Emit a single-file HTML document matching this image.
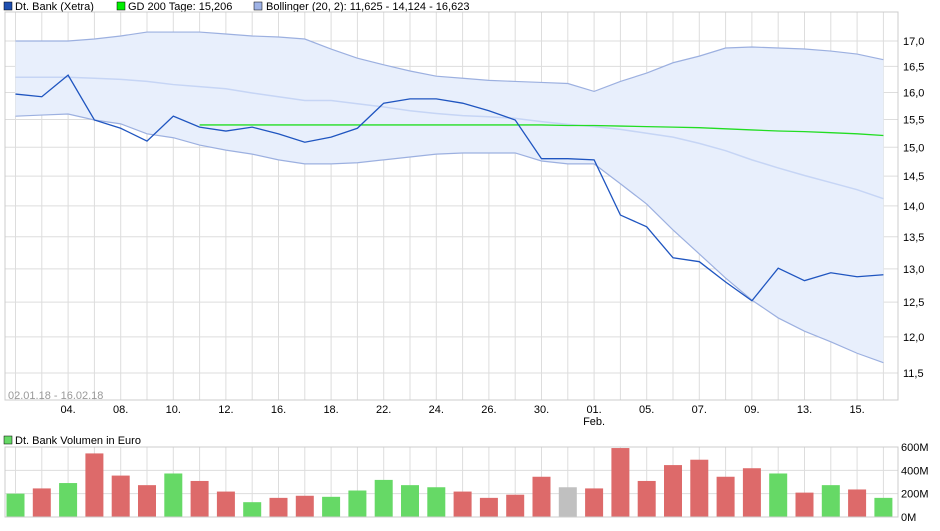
<!DOCTYPE html>
<html><head><meta charset="utf-8">
<style>
body{margin:0;background:#fff;font-family:"Liberation Sans",sans-serif;}
svg text{font-family:"Liberation Sans",sans-serif;}
</style></head>
<body>
<svg id="c" width="940" height="526" xmlns="http://www.w3.org/2000/svg">
<rect x="0" y="0" width="940" height="526" fill="#fff"/>
<g font-size="11" fill="#000">
<rect x="4" y="2" width="8" height="8" fill="#1f4fb0" stroke="#000" stroke-width="0.5"/>
<text x="15" y="10">Dt. Bank (Xetra)</text>
<rect x="117" y="2" width="8" height="8" fill="#00ee00" stroke="#000" stroke-width="0.5"/>
<text x="128" y="10">GD 200 Tage: 15,206</text>
<rect x="254" y="2" width="8" height="8" fill="#9fb3e6" stroke="#000" stroke-width="0.5"/>
<text x="266" y="10">Bollinger (20, 2): 11,625 - 14,124 - 16,623</text>
<rect x="4" y="436" width="8" height="8" fill="#66d966" stroke="#000" stroke-width="0.5"/>
<text x="15" y="444">Dt. Bank Volumen in Euro</text>
</g>
<g id="grid"></g>
<g id="marks"></g>
<g id="axes" font-size="11" fill="#000"></g>
<text x="8" y="399" font-size="11" fill="#999">02.01.18 - 16.02.18</text>
</svg>
<script>
const dates=["02.","03.","04.","05.","08.","09.","10.","11.","12.","15.","16.","17.","18.","19.","22.","23.","24.","25.","26.","29.","30.","31.","01.","02.","05.","06.","07.","08.","09.","12.","13.","14.","15.","16."];
const price=[15.97,15.92,16.33,15.49,15.34,15.11,15.56,15.36,15.29,15.36,15.24,15.09,15.18,15.34,15.80,15.88,15.88,15.80,15.66,15.49,14.80,14.80,14.78,13.85,13.66,13.17,13.11,12.80,12.52,13.01,12.82,12.94,12.88,12.91];
const upper=[17.0,17.0,17.0,17.04,17.10,17.18,17.18,17.18,17.14,17.10,17.08,17.04,16.84,16.66,16.53,16.41,16.31,16.27,16.23,16.21,16.19,16.17,16.02,16.21,16.37,16.57,16.70,16.86,16.88,16.86,16.84,16.80,16.74,16.63];
const middle=[16.29,16.29,16.29,16.27,16.25,16.21,16.15,16.11,16.07,15.99,15.92,15.85,15.85,15.79,15.73,15.66,15.61,15.57,15.55,15.52,15.46,15.41,15.37,15.32,15.25,15.18,15.07,14.94,14.78,14.64,14.51,14.39,14.27,14.12];
const lower=[15.56,15.58,15.60,15.49,15.42,15.24,15.17,15.04,14.95,14.88,14.78,14.71,14.71,14.73,14.78,14.83,14.88,14.90,14.90,14.90,14.76,14.71,14.71,14.37,14.03,13.61,13.23,12.86,12.53,12.27,12.08,11.93,11.77,11.64];
const gd200=[null,null,null,null,null,null,null,15.40,15.40,15.40,15.40,15.40,15.40,15.40,15.40,15.40,15.40,15.40,15.40,15.40,15.40,15.39,15.39,15.38,15.37,15.36,15.35,15.33,15.31,15.29,15.28,15.26,15.24,15.21];
const volume=[200,245,291,545,355,273,373,309,218,127,164,182,173,227,318,273,255,218,164,191,345,255,245,591,309,445,491,345,418,373,209,273,236,164];
const volColor=["g","r","g","r","r","r","g","r","r","g","r","r","g","g","g","g","g","r","r","r","r","n","r","r","r","r","r","r","r","g","r","g","r","g"];
const yTicks=[17.0,16.5,16.0,15.5,15.0,14.5,14.0,13.5,13.0,12.5,12.0,11.5];
const volTicks=[0,200,400,600];
const volTickLabels=["0M","200M","400M","600M"];

const NS="http://www.w3.org/2000/svg";
function el(t,a,p){const e=document.createElementNS(NS,t);for(const k in a)e.setAttribute(k,a[k]);document.getElementById(p).appendChild(e);return e;}
const X0=15.5,DX=26.3;
function xs(i){return X0+i*DX;}
function ys(v){return 41+(Math.log(17)-Math.log(v))*849.3;}
function yv(v){return 517-v/600*70;}
const L=5,R=898;
// main grid
for(let i=0;i<dates.length;i++){const g=el('line',{x1:xs(i),x2:xs(i),y1:12,y2:400,stroke:'#ddd','stroke-width':1},'grid');


const g2=el('line',{x1:xs(i),x2:xs(i),y1:447,y2:517,stroke:'#ddd','stroke-width':1},'grid');

}
yTicks.forEach(t=>{const g=el('line',{x1:L,x2:R,y1:ys(t),y2:ys(t),stroke:'#ddd'},'grid');


const tx=el('text',{x:903,y:ys(t)+4},'axes');tx.textContent=t.toFixed(1).replace('.',',');

});
volTicks.forEach((t,k)=>{const g=el('line',{x1:L,x2:R,y1:yv(t),y2:yv(t),stroke:'#ddd'},'grid');


const tx=el('text',{x:901,y:yv(t)+4,'font-size':'11'},'axes');tx.textContent=volTickLabels[k];

});
// frames
let f=el('rect',{x:L,y:12,width:R-L,height:388,fill:'none',stroke:'#ccc'},'axes');


f=el('rect',{x:L,y:447,width:R-L,height:70,fill:'none',stroke:'#ccc'},'axes');


// x labels
for(let i=2;i<dates.length;i+=2){const tx=el('text',{x:xs(i),y:413,'text-anchor':'middle'},'axes');tx.textContent=dates[i];

}
const feb=el('text',{x:xs(22),y:425,'text-anchor':'middle'},'axes');feb.textContent='Feb.';


// band
let d='';upper.forEach((v,i)=>d+=(i?'L':'M')+xs(i)+','+ys(v));
for(let i=lower.length-1;i>=0;i--)d+='L'+xs(i)+','+ys(lower[i]);d+='Z';
const band=el('path',{d:d,fill:'#e8effc',stroke:'none'},'marks');


function line(arr,stroke,w,name){let p='',s=false;arr.forEach((v,i)=>{if(v==null)return;p+=(s?'L':'M')+xs(i)+','+ys(v);s=true;});
const e=el('path',{d:p,fill:'none',stroke:stroke,'stroke-width':w},'marks');

}
line(upper,'#9cb0e0',1.2,'bollinger-upper');
line(lower,'#9cb0e0',1.2,'bollinger-lower');
line(middle,'#c6d5f5',1.5,'bollinger-middle');
line(gd200,'#22dd22',1.3,'gd200-line');
line(price,'#1f55c0',1.3,'price-line');
// volume
const cols={g:'#66d966',r:'#dd6a6a',n:'#c0c0c0'};
volume.forEach((v,i)=>{const b=el('rect',{x:xs(i)-9,y:yv(v),width:18,height:517-yv(v),fill:cols[volColor[i]]},'marks');

});
</script>
</body></html>
